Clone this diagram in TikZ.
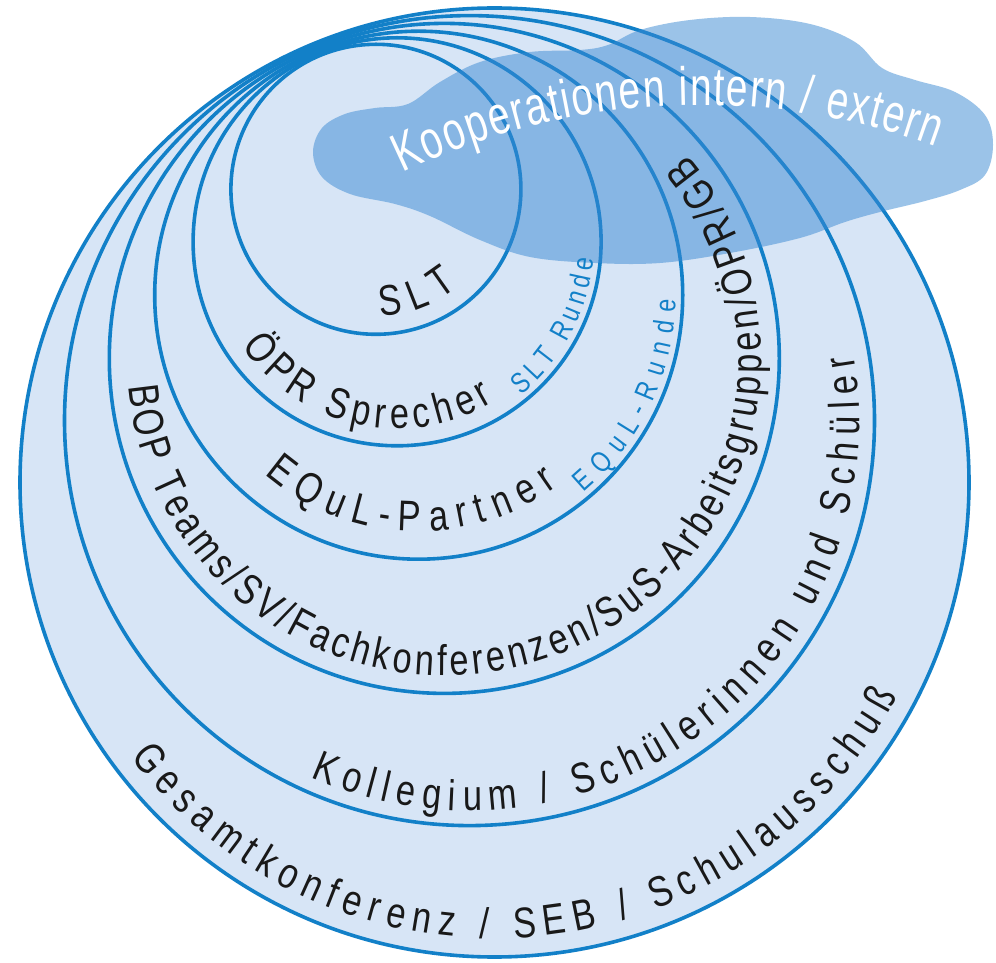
\documentclass[tikz,border=0pt]{standalone}
\usepackage{fontspec}
\usetikzlibrary{decorations.text}
\newfontfamily\lblfam[FakeStretch=0.8]{Liberation Sans}
\newfontfamily\cloudfam[FakeStretch=0.72]{Liberation Sans}
\newcommand\lblfont{\lblfam\fontsize{43pt}{48pt}\selectfont}
\newcommand\smlfont{\lblfam\fontsize{29pt}{32pt}\selectfont}
\newcommand\cldfont{\cloudfam\fontsize{54pt}{60pt}\selectfont}
\definecolor{ringblue}{RGB}{18,128,200}
\definecolor{discfill}{RGB}{215,229,246}
\definecolor{cloudblue}{RGB}{57,137,211}
\definecolor{inkblack}{RGB}{25,25,25}
\begin{document}
\begin{tikzpicture}[x=1pt,y=1pt,
  ring/.style={draw=ringblue, line width=3.6pt},
  lbl/.style={decorate, decoration={text along path, text align=fit to path, text color=inkblack, text={#1}}},
  bluelbl/.style={decorate, decoration={text along path, text align=fit to path, text color=ringblue, text={#1}}},
  whitelbl/.style={decorate, decoration={text along path, text align=fit to path, text color=white, text={#1}}}]
\fill[white] (0,0) rectangle (996,962);
\useasboundingbox (0,0) rectangle (996,962);
% centres
\coordinate (cOut) at (494.5,479.5);
\coordinate (cKol) at (469.5,541.4);
\coordinate (cBOP) at (444.3,603.6);
\coordinate (cEQ) at (418.7,666.8);
\coordinate (cOPR) at (397.1,720.2);
\coordinate (cSLT) at (375.9,772.7);
\coordinate (cCloud) at (700,174);
% disc and rings
\fill[discfill] (cOut) circle[radius=474.5pt];
\draw[ring] (cOut) circle[radius=474.5pt];
\draw[ring] (cKol) circle[radius=405pt];
\draw[ring] (cBOP) circle[radius=335pt];
\draw[ring] (cEQ) circle[radius=264pt];
\draw[ring] (cOPR) circle[radius=204pt];
\draw[ring] (cSLT) circle[radius=145pt];
% cloud
\fill[cloudblue, opacity=0.5] plot[smooth cycle, tension=0.6] coordinates {
 (313,810) (322,834) (345,848) (375,854) (408,858) (440,880) (480,900) (530,910)
 (580,912) (608,917) (640,932) (690,942) (750,945) (810,938) (855,920) (882,894)
 (915,882) (955,870) (985,847) (993,817) (985,787) (960,772) (925,761) (880,750)
 (845,740) (800,724) (730,709) (660,699) (595,699) (530,705) (480,722) (430,746)
 (395,758) (350,768) (322,785)};
% labels
\path[lbl={|\lblfont|SLT}] (cSLT) ++(-88:127pt) arc[start angle=-88, end angle=-50, radius=127pt];
\path[lbl={|\lblfont|ÖPR Sprecher}] (cOPR) ++(-146:187pt) arc[start angle=-146, end angle=-59, radius=187pt];
\path[bluelbl={|\smlfont|SLT Runde}] (cOPR) ++(-51:197pt) arc[start angle=-51, end angle=-5, radius=197pt];
\path[lbl={|\lblfont|EQuL-Partner}] (cEQ) ++(-130.6:236pt) arc[start angle=-130.6, end angle=-54, radius=236pt];
\path[bluelbl={|\smlfont|EQuL-Runde}] (cEQ) ++(-50:257pt) arc[start angle=-50, end angle=-1, radius=257pt];
\path[lbl={|\lblfont|BOP Teams/SV/Fachkonferenzen/SuS-Arbeitsgruppen/ÖPR/GB}] (cBOP) ++(-175:317pt) arc[start angle=-175, end angle=40, radius=317pt];
\path[lbl={|\lblfont|Kollegium / Schülerinnen und Schüler}] (cKol) ++(-114:390pt) arc[start angle=-114, end angle=9.6, radius=390pt];
\path[lbl={|\lblfont|Gesamtkonferenz / SEB / Schulausschuß}] (cOut) ++(-143:456pt) arc[start angle=-143, end angle=-28, radius=456pt];
\path[whitelbl={|\cldfont|Kooperationen intern / extern}] (cCloud) ++(115.8:683pt) arc[start angle=115.8, end angle=69.8, radius=683pt];
\end{tikzpicture}
\end{document}
